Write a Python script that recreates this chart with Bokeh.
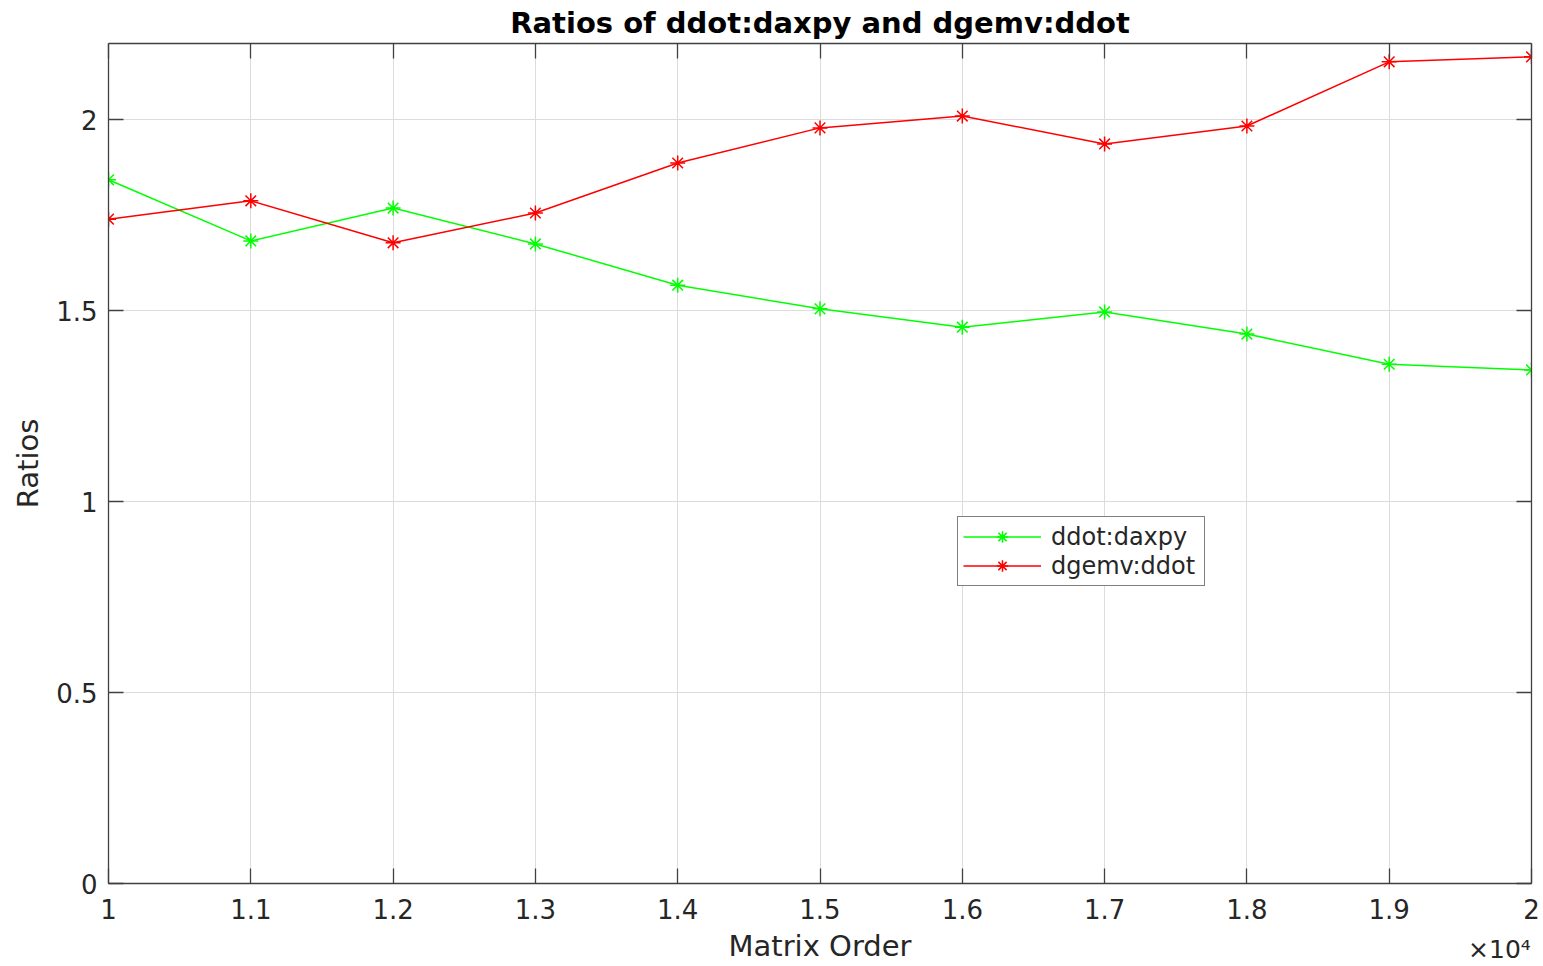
from bokeh.plotting import figure
from bokeh.models import (Range1d, LinearAxis, FixedTicker, Legend, LegendItem)
from bokeh.embed import file_html
from bokeh.resources import INLINE

# ---- data ----
matrix_order = [10000, 11000, 12000, 13000, 14000, 15000, 16000, 17000, 18000, 19000, 20000]
ddot_daxpy = [1.843, 1.683, 1.769, 1.675, 1.567, 1.505, 1.457, 1.497, 1.439, 1.360, 1.345]
dgemv_ddot = [1.740, 1.788, 1.678, 1.756, 1.887, 1.979, 2.010, 1.937, 1.984, 2.152, 2.165]
x_ticks = [10000, 11000, 12000, 13000, 14000, 15000, 16000, 17000, 18000, 19000, 20000]
x_tick_labels = ["1", "1.1", "1.2", "1.3", "1.4", "1.5", "1.6", "1.7", "1.8", "1.9", "2"]
y_ticks = [0, 0.5, 1, 1.5, 2]
y_tick_labels = ["0", "0.5", "1", "1.5", "2"]
series_names = ["ddot:daxpy", "dgemv:ddot"]
series_colors = ["#00ff00", "#ff0000"]
x_multiplier_text = "×10⁴"

FONT = "DejaVu Sans"
AX = "#404040"
TXT = "#262626"

X0, X1 = 10000, 20000
W, H = 1543, 966
LEFT, RIGHT = 108, 12
FRAME_W = W - LEFT - RIGHT

p = figure(width=W, height=H, output_backend="svg", toolbar_location=None,
           x_range=Range1d(X0, X1), y_range=Range1d(0, 2.2),
           x_axis_location=None, y_axis_location=None,
           min_border_left=LEFT, min_border_right=RIGHT, min_border_top=8, min_border_bottom=83)
p.background_fill_color = "white"
p.border_fill_color = "white"
p.outline_line_color = None

p.title.text = "Ratios of ddot:daxpy and dgemv:ddot"
p.title.text_font = FONT
p.title.text_font_size = "29px"
p.title.text_font_style = "bold"
p.title.text_color = "black"
p.title.align = "center"
p.title.standoff = 7

def style_axis(ax, show_labels):
    ax.axis_line_color = AX
    ax.axis_line_width = 1.3
    ax.major_tick_line_color = AX
    ax.major_tick_line_width = 1.3
    ax.major_tick_in = 15
    ax.major_tick_out = 0
    ax.minor_tick_line_color = None
    ax.major_label_text_font = FONT
    ax.major_label_text_color = TXT
    ax.axis_label_text_font = FONT
    ax.axis_label_text_color = TXT
    ax.axis_label_text_font_style = "normal"
    if not show_labels:
        ax.major_label_text_font_size = "0px"
        ax.major_label_standoff = 0
        ax.major_label_text_alpha = 0

xt = FixedTicker(ticks=x_ticks)
yt = FixedTicker(ticks=y_ticks)

xb = LinearAxis(ticker=xt, axis_label="Matrix Order")
style_axis(xb, True)
xb.major_label_overrides = dict(zip(x_ticks, x_tick_labels))
xb.major_label_text_font_size = "26px"
xb.major_label_standoff = 15
xb.axis_label_text_font_size = "29px"
xb.axis_label_standoff = 7
p.add_layout(xb, "below")

# exponent marker "×10⁴" under the right end of the x axis
mult_halfwidth_px = 32
mult_pos = X1 - mult_halfwidth_px * (X1 - X0) / FRAME_W
xz = LinearAxis(ticker=FixedTicker(ticks=[mult_pos]))
xz.major_label_overrides = {mult_pos: x_multiplier_text}
xz.axis_line_color = None
xz.major_tick_line_color = None
xz.minor_tick_line_color = None
xz.major_tick_in = 0
xz.major_tick_out = 0
xz.major_label_text_font = FONT
xz.major_label_text_font_size = "25px"
xz.major_label_text_color = TXT
xz.major_label_standoff = -31
p.add_layout(xz, "below")

yl = LinearAxis(ticker=yt, axis_label="Ratios")
style_axis(yl, True)
yl.major_label_overrides = dict(zip(y_ticks, y_tick_labels))
yl.major_label_text_font_size = "26px"
yl.major_label_standoff = 11
yl.axis_label_text_font_size = "29px"
yl.axis_label_standoff = 8
p.add_layout(yl, "left")

xa = LinearAxis(ticker=xt)
style_axis(xa, False)
p.add_layout(xa, "above")

yr = LinearAxis(ticker=yt)
style_axis(yr, False)
p.add_layout(yr, "right")

p.xgrid.ticker = xt
p.ygrid.ticker = yt
p.xgrid.grid_line_color = "#dcdcdc"
p.ygrid.grid_line_color = "#dcdcdc"
p.xgrid.grid_line_width = 1
p.ygrid.grid_line_width = 1

items = []
for ys, name, col in zip([ddot_daxpy, dgemv_ddot], series_names, series_colors):
    l = p.line(matrix_order, ys, line_color=col, line_width=1.5)
    m = p.scatter(matrix_order, ys, marker="asterisk", size=15, line_color=col, line_width=1.5)
    items.append(LegendItem(label=name, renderers=[l, m]))

leg = Legend(items=items, location=(849, 297))
leg.label_text_font = FONT
leg.label_text_font_size = "24px"
leg.label_text_color = TXT
leg.border_line_color = "black"
leg.border_line_width = 1
leg.background_fill_color = "white"
leg.background_fill_alpha = 1
leg.glyph_width = 78
leg.glyph_height = 29
leg.label_height = 29
leg.label_width = 148
leg.spacing = 0
leg.padding = 5
leg.margin = 0
leg.label_standoff = 10
p.add_layout(leg, "center")

open("out.html", "w").write(file_html(p, INLINE))
